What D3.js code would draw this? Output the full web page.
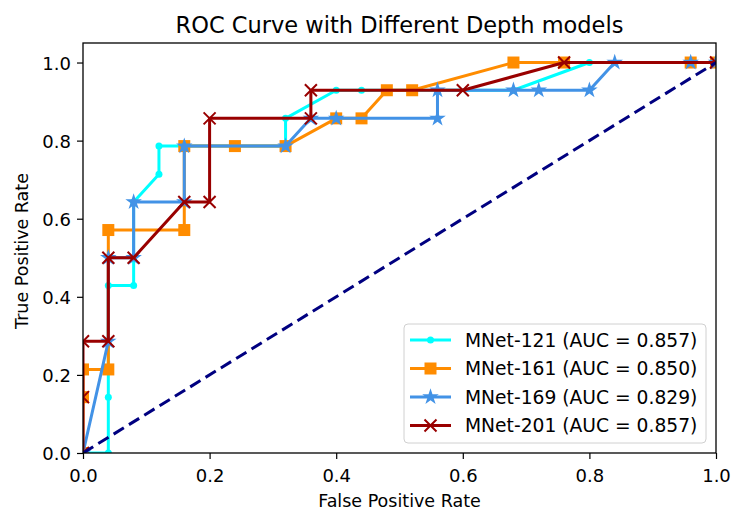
<!DOCTYPE html>
<html>
<head>
<meta charset="utf-8">
<script src="https://cdn.jsdelivr.net/npm/d3@7"></script>
<style>
  body { margin: 0; background: #fff; }
  text { font-family: "DejaVu Sans", sans-serif; fill: #000; }
</style>
</head>
<body>
<svg width="732" height="512"></svg>
<script>
// ROC points: [fpr, tpr]
const mnet121 = [[0,0],[0.04,0],[0.04,0.143],[0.04,0.429],[0.08,0.429],[0.08,0.643],[0.12,0.714],[0.12,0.786],
  [0.32,0.786],[0.32,0.857],[0.40,0.929],[0.44,0.929],[0.68,0.929],[0.80,1.0],[1,1]];
const mnet161 = [[0,0],[0,0.143],[0,0.214],[0.04,0.214],[0.04,0.571],[0.16,0.571],[0.16,0.786],[0.24,0.786],
  [0.32,0.786],[0.40,0.857],[0.44,0.857],[0.48,0.929],[0.52,0.929],[0.68,1.0],[0.76,1.0],[0.96,1.0],[1,1]];
const mnet169 = [[0,0],[0.04,0.286],[0.04,0.5],[0.08,0.5],[0.08,0.643],[0.16,0.643],[0.16,0.786],[0.32,0.786],
  [0.36,0.857],[0.40,0.857],[0.56,0.857],[0.56,0.929],[0.68,0.929],[0.72,0.929],[0.80,0.929],[0.84,1.0],[0.96,1.0],[1,1]];
const mnet201 = [[0,0],[0,0.143],[0,0.286],[0.04,0.286],[0.04,0.5],[0.08,0.5],[0.16,0.643],[0.20,0.643],
  [0.20,0.857],[0.36,0.857],[0.36,0.929],[0.60,0.929],[0.76,1.0],[1,1]];
const chance = [[0,0],[1,1]];

const seriesNames = ['MNet-121 (AUC = 0.857)', 'MNet-161 (AUC = 0.850)', 'MNet-169 (AUC = 0.829)', 'MNet-201 (AUC = 0.857)'];
const xTicks = [0, 0.2, 0.4, 0.6, 0.8, 1.0];
const yTicks = [0, 0.2, 0.4, 0.6, 0.8, 1.0];

const series = [
  { name: seriesNames[0], data: mnet121, color: '#00ffff', marker: 'dot' },
  { name: seriesNames[1], data: mnet161, color: '#ff8c00', marker: 'square' },
  { name: seriesNames[2], data: mnet169, color: '#4292e6', marker: 'star' },
  { name: seriesNames[3], data: mnet201, color: '#990000', marker: 'x' }
];

const svg = d3.select('svg');
const margin = { top: 43, right: 16, bottom: 59, left: 83 };
const width = +svg.attr('width');
const height = +svg.attr('height');
const innerWidth = width - margin.left - margin.right;
const innerHeight = height - margin.top - margin.bottom;

const xScale = d3.scaleLinear().domain([0, 1]).range([0, innerWidth]);
const yScale = d3.scaleLinear().domain([0, 1.05]).range([innerHeight, 0]);

svg.append('defs').append('clipPath').attr('id', 'clip')
  .append('rect').attr('width', innerWidth).attr('height', innerHeight);

const g = svg.append('g').attr('transform', `translate(${margin.left},${margin.top})`);

// title
svg.append('text')
  .text('ROC Curve with Different Depth models')
  .attr('x', margin.left + innerWidth / 2)
  .attr('y', 33)
  .attr('text-anchor', 'middle')
  .attr('font-size', 22.5);

// axes
const xAxis = d3.axisBottom(xScale).tickValues(xTicks).tickFormat(d3.format('.1f')).tickSize(6).tickPadding(6);
const xAxisG = g.append('g').attr('transform', `translate(0,${innerHeight})`).call(xAxis);
const yAxis = d3.axisLeft(yScale).tickValues(yTicks).tickFormat(d3.format('.1f')).tickSize(6).tickPadding(6);
const yAxisG = g.append('g').call(yAxis);
[xAxisG, yAxisG].forEach(a => {
  a.attr('font-size', 18).attr('font-family', '"DejaVu Sans", sans-serif');
  a.selectAll('.domain').remove();
  a.selectAll('.tick line').attr('stroke', '#000').attr('stroke-width', 1.2);
});
xAxisG.selectAll('.tick text').attr('dy', '0.93em');
yAxisG.selectAll('.tick text').attr('dy', '0.36em');

// axis labels
svg.append('text')
  .text('False Positive Rate')
  .attr('x', margin.left + innerWidth / 2)
  .attr('y', 507)
  .attr('text-anchor', 'middle')
  .attr('font-size', 17.5);

svg.append('text')
  .text('True Positive Rate')
  .attr('transform', `translate(28,${margin.top + innerHeight / 2 + 3}) rotate(-90)`)
  .attr('text-anchor', 'middle')
  .attr('font-size', 17.5);

// marker drawing helper
const drawMarker = (sel, type, color) => {
  if (type === 'dot') {
    sel.append('circle').attr('r', 3.5).attr('fill', color);
  } else if (type === 'square') {
    sel.append('rect').attr('x', -6).attr('y', -6).attr('width', 12).attr('height', 12).attr('fill', color);
  } else if (type === 'star') {
    sel.append('path').attr('d', d3.symbol(d3.symbolStar, 85)()).attr('fill', color);
  } else {
    sel.append('path').attr('d', 'M-6,-6L6,6M-6,6L6,-6')
      .attr('stroke', color).attr('stroke-width', 2).attr('fill', 'none');
  }
};

const plot = g.append('g').attr('clip-path', 'url(#clip)');
const line = d3.line().x(d => xScale(d[0])).y(d => yScale(d[1]));

series.forEach(s => {
  const sg = plot.append('g');
  sg.append('path')
    .datum(s.data)
    .attr('d', line)
    .attr('fill', 'none')
    .attr('stroke', s.color)
    .attr('stroke-width', 3)
    .attr('stroke-linejoin', 'round');
  sg.selectAll('g.m')
    .data(s.data)
    .enter()
    .append('g')
    .attr('class', 'm')
    .attr('transform', d => `translate(${xScale(d[0])},${yScale(d[1])})`)
    .each(function () { drawMarker(d3.select(this), s.marker, s.color); });
});

// chance diagonal
plot.append('path')
  .datum(chance)
  .attr('d', line)
  .attr('fill', 'none')
  .attr('stroke', '#000080')
  .attr('stroke-width', 3)
  .attr('stroke-dasharray', '12,6');

// frame
g.append('rect')
  .attr('width', innerWidth)
  .attr('height', innerHeight)
  .attr('fill', 'none')
  .attr('stroke', '#000')
  .attr('stroke-width', 1.3);

// legend
const legend = svg.append('g').attr('transform', 'translate(404,324)');
legend.append('rect')
  .attr('width', 302).attr('height', 119)
  .attr('rx', 4)
  .attr('fill', 'rgba(255,255,255,0.8)')
  .attr('stroke', '#d0d0d0');
series.forEach((s, i) => {
  const row = legend.append('g').attr('transform', `translate(0,${16 + i * 28.5})`);
  row.append('line').attr('x1', 6).attr('x2', 47).attr('stroke', s.color).attr('stroke-width', 3);
  drawMarker(row.append('g').attr('transform', 'translate(26.5,0)'), s.marker, s.color);
  row.append('text')
    .text(s.name)
    .attr('x', 61)
    .attr('dy', '0.36em')
    .attr('font-size', 18.7);
});
</script>
</body>
</html>
